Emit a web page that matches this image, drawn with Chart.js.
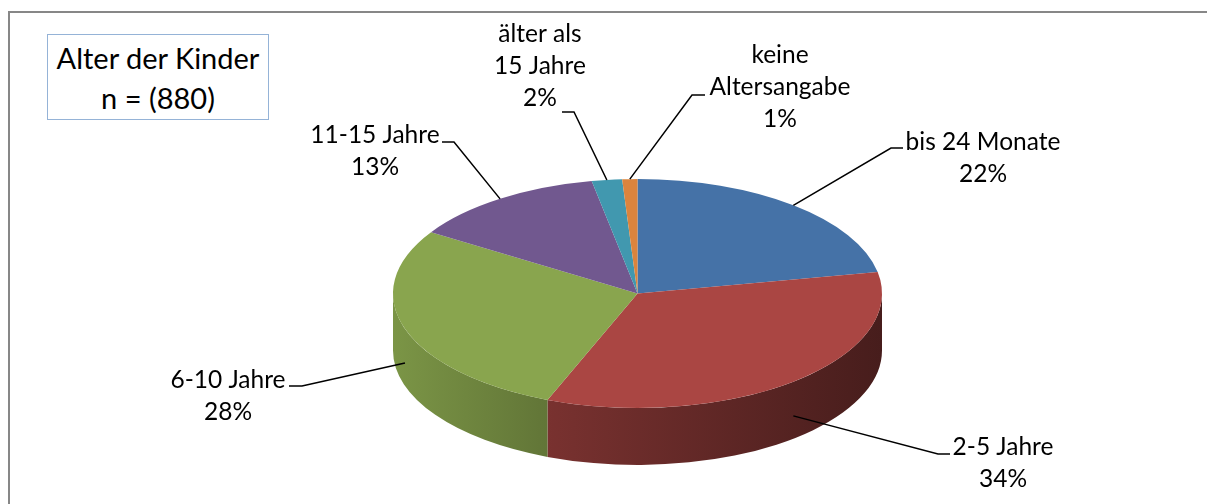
<!DOCTYPE html>
<html>
<head>
<meta charset="utf-8">
<script src="https://cdn.jsdelivr.net/npm/chart.js@4"></script>
<style>
    body { margin: 0; background: #fff; }
    #wrap { position: relative; width: 1207px; height: 504px; }
    #frame { position: absolute; left: 8px; top: 11px; right: 0; bottom: 0; border-left: 2px solid #878787; border-top: 2px solid #878787; }
    #titleBox {
        position: absolute; left: 47px; top: 34px; width: 222px; height: 86px;
        border: 1px solid #95b3d7; background: #fff;
        font-family: Lato, sans-serif; font-size: 29px; line-height: 40px;
        text-align: center; padding-top: 3px; box-sizing: border-box; color: #000;
    }
    canvas { position: absolute; left: 0; top: 0; }
</style>
</head>
<body>
<div id="wrap">
    <div id="frame"></div>
    <canvas id="pieChart" width="1207" height="504"></canvas>
    <div id="titleBox">Alter der Kinder<br>n = (880)</div>
</div>
<script>
const categories = ['bis 24 Monate', '2-5 Jahre', '6-10 Jahre', '11-15 Jahre', 'älter als 15 Jahre', 'keine Altersangabe'];
const percents = [22, 34, 28, 13, 2, 1];
const labelLines = [['bis 24 Monate'], ['2-5 Jahre'], ['6-10 Jahre'], ['11-15 Jahre'], ['älter als', '15 Jahre'], ['keine', 'Altersangabe']];
const colors = ['#4572A7', '#AA4643', '#89A54E', '#71588F', '#4198AF', '#DB843D'];

// where Excel placed the labels (text centre, first line) and the little horizontal bit of the leader
const labelLayout = [
    { x: 983, y: 142, hx1: 903, hx2: 891, hy: 148 },
    { x: 1003, y: 447, hx1: 950, hx2: 938, hy: 454 },
    { x: 228, y: 380, hx1: 289, hx2: 302, hy: 386 },
    { x: 375, y: 135, hx1: 442, hx2: 454, hy: 142 },
    { x: 540, y: 34, hx1: 562, hx2: 574, hy: 112 },
    { x: 780, y: 55, hx1: 705, hx2: 692, hy: 95 }
];

const centerY = 293.5;
const squash = 0.468;
const depth = 57;
const lineGap = 32;

function shade(hex, f) {
    const n = parseInt(hex.slice(1), 16);
    const r = Math.round(((n >> 16) & 255) * f);
    const g = Math.round(((n >> 8) & 255) * f);
    const b = Math.round((n & 255) * f);
    return 'rgb(' + r + ',' + g + ',' + b + ')';
}

const pie3d = {
    id: 'pie3d',
    beforeDatasetsDraw(chart) {
        const ctx = chart.ctx;
        const meta = chart.getDatasetMeta(0);
        const first = meta.data[0];
        const cx = first.x, cy0 = first.y, r = first.outerRadius;
        const ry = r * squash;

        // front wall of the pie
        meta.data.forEach((arc, i) => {
            [-2 * Math.PI, 0, 2 * Math.PI].forEach(k => {
                const s = Math.max(arc.startAngle + k, 0);
                const e = Math.min(arc.endAngle + k, Math.PI);
                if (e <= s) return;
                const grad = ctx.createLinearGradient(cx - r, 0, cx + r, 0);
                grad.addColorStop(0, shade(colors[i], 0.9));
                grad.addColorStop(0.3, shade(colors[i], 0.72));
                grad.addColorStop(1, shade(colors[i], 0.42));
                ctx.beginPath();
                ctx.ellipse(cx, centerY, r, ry, 0, s, e);
                ctx.ellipse(cx, centerY + depth, r, ry, 0, e, s, true);
                ctx.closePath();
                ctx.fillStyle = grad;
                ctx.fill();
            });
        });

        // squash the top face into an ellipse
        ctx.save();
        ctx.translate(cx, centerY);
        ctx.scale(1, squash);
        ctx.translate(-cx, -cy0);
    },
    afterDatasetsDraw(chart) {
        chart.ctx.restore();
    },
    afterDraw(chart) {
        const ctx = chart.ctx;
        const meta = chart.getDatasetMeta(0);
        const first = meta.data[0];
        const cx = first.x, r = first.outerRadius;
        const ry = r * squash;

        ctx.save();
        ctx.strokeStyle = '#000';
        ctx.lineWidth = 1.5;
        ctx.fillStyle = '#000';
        ctx.font = '24.5px Lato';
        ctx.textAlign = 'center';
        ctx.textBaseline = 'middle';

        meta.data.forEach((arc, i) => {
            const mid = (arc.startAngle + arc.endAngle) / 2;
            const px = cx + r * Math.cos(mid);
            let py = centerY + ry * Math.sin(mid);
            if (Math.sin(mid) > 0) py += depth * 0.6;
            const L = labelLayout[i];

            ctx.beginPath();
            ctx.moveTo(px, py);
            ctx.lineTo(L.hx2, L.hy);
            ctx.lineTo(L.hx1, L.hy);
            ctx.stroke();

            const lines = labelLines[i].concat([percents[i] + '%']);
            lines.forEach((t, j) => ctx.fillText(t, L.x, L.y + j * lineGap));
        });
        ctx.restore();
    }
};

new Chart(document.getElementById('pieChart'), {
    type: 'pie',
    data: {
        labels: categories,
        datasets: [{
            data: percents,
            backgroundColor: colors,
            borderWidth: 0
        }]
    },
    options: {
        responsive: false,
        animation: false,
        events: [],
        layout: { padding: { left: 393, right: 325, top: 7, bottom: 8 } },
        plugins: {
            legend: { display: false },
            tooltip: { enabled: false }
        }
    },
    plugins: [pie3d]
});
</script>
</body>
</html>
